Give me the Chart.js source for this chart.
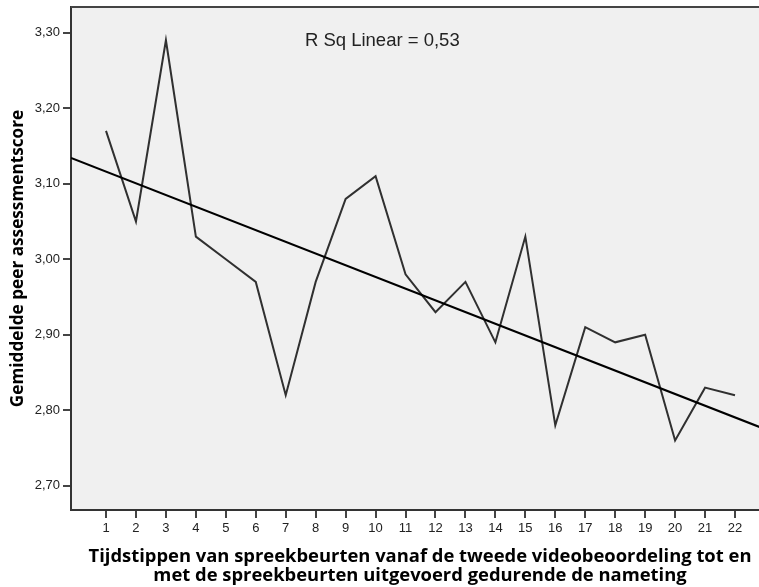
<!DOCTYPE html>
<html><head><meta charset="utf-8">
<script src="https://cdn.jsdelivr.net/npm/chart.js@4/dist/chart.umd.min.js"></script>
<style>html,body{margin:0;padding:0;background:#fff;overflow:hidden;width:759px;height:587px;} #wrap{width:769px;height:587px;}</style>
</head><body><div id="wrap"><canvas id="c" width="769" height="587"></canvas></div>
<script>
const timePoints = [1,2,3,4,5,6,7,8,9,10,11,12,13,14,15,16,17,18,19,20,21,22];
const meanScores = [3.17,3.05,3.29,3.03,3.00,2.97,2.82,2.97,3.08,3.11,2.98,2.93,2.97,2.89,3.03,2.78,2.91,2.89,2.90,2.76,2.83,2.82];
const xTickValues = [1,2,3,4,5,6,7,8,9,10,11,12,13,14,15,16,17,18,19,20,21,22];
const yTickValues = [2.70,2.80,2.90,3.00,3.10,3.20,3.30];
const xRange = [-0.169, 23.135];
const yRange = [2.668, 3.334];
const fitLineX = [-0.169, 23.135];
const fitLineY = [3.134, 2.773];
const rSqLabel = 'R Sq Linear = 0,53';
const rSqPos = [7.64, 3.289];
const yTitle = 'Gemiddelde peer assessmentscore';
const xTitle = ['Tijdstippen van spreekbeurten vanaf de tweede videobeoordeling tot en',
                'met de spreekbeurten uitgevoerd gedurende de nameting'];

const plotDecor = {
  id: 'plotDecor',
  beforeDraw(chart) {
    const {ctx, chartArea: a} = chart;
    ctx.save();
    ctx.fillStyle = '#f0f0f0';
    ctx.fillRect(a.left, a.top, a.right - a.left, a.bottom - a.top);
    ctx.restore();
  },
  afterDraw(chart) {
    const {ctx, chartArea: a, scales} = chart;
    ctx.save();
    ctx.strokeStyle = '#444';
    ctx.lineWidth = 2;
    ctx.beginPath();
    ctx.moveTo(a.left, a.top);
    ctx.lineTo(a.right, a.top);
    ctx.stroke();
    ctx.fillStyle = '#222';
    ctx.font = '18.5px "Liberation Sans", Arial, sans-serif';
    ctx.textAlign = 'left';
    ctx.textBaseline = 'middle';
    ctx.fillText(rSqLabel, scales.x.getPixelForValue(rSqPos[0]), scales.y.getPixelForValue(rSqPos[1]));
    ctx.restore();
  }
};

new Chart(document.getElementById('c'), {
  type: 'line',
  data: {
    datasets: [
      {
        data: fitLineX.map((x, i) => ({x, y: fitLineY[i]})),
        borderColor: '#000', borderWidth: 2, pointRadius: 0, order: 0
      },
      {
        data: timePoints.map((x, i) => ({x, y: meanScores[i]})),
        borderColor: '#303030', borderWidth: 2, pointRadius: 0, tension: 0, order: 1
      }
    ]
  },
  options: {
    responsive: false,
    animation: false,
    devicePixelRatio: 1,
    layout: {padding: {top: 7, right: 0, bottom: 0, left: 0}},
    plugins: {legend: {display: false}, tooltip: {enabled: false}},
    scales: {
      x: {
        type: 'linear', min: xRange[0], max: xRange[1],
        afterBuildTicks: s => { s.ticks = xTickValues.map(v => ({value: v})); },
        afterFit: s => { s.height = 77; s.paddingLeft = 0; s.paddingRight = 0; },
        grid: {drawOnChartArea: false, drawTicks: true, tickLength: 8, color: '#444', lineWidth: 2},
        border: {display: true, color: '#333', width: 2},
        ticks: {color: '#222', font: {family: '"Liberation Sans", Arial, sans-serif', size: 13}, padding: 3, maxRotation: 0, autoSkip: false, callback: v => String(v)},
        title: {display: true, text: xTitle, color: '#000', font: {family: '"Open Sans", sans-serif', size: 18.4, weight: 'bold', lineHeight: 1.03}, padding: {top: 0, bottom: 2}}
      },
      y: {
        type: 'linear', min: yRange[0], max: yRange[1],
        afterBuildTicks: s => { s.ticks = yTickValues.map(v => ({value: v})); },
        afterFit: s => { s.width = 71; s.paddingTop = 0; s.paddingBottom = 0; },
        grid: {drawOnChartArea: false, drawTicks: true, tickLength: 8, color: '#444', lineWidth: 2},
        border: {display: true, color: '#333', width: 2},
        ticks: {color: '#222', font: {family: '"Liberation Sans", Arial, sans-serif', size: 13}, padding: 3, callback: v => v.toFixed(2).replace('.', ',')},
        title: {display: true, text: yTitle, color: '#000', font: {family: '"Open Sans", sans-serif', size: 17.2, weight: 'bold', lineHeight: 1.15}, padding: {top: 8, bottom: 0}}
      }
    }
  },
  plugins: [plotDecor]
});
</script>
</body></html>
